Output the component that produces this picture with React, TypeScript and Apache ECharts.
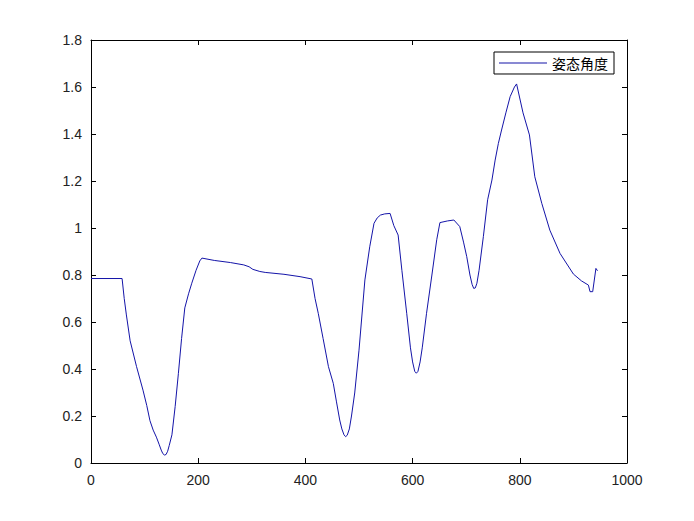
import React, { useEffect, useRef } from "react";
import * as echarts from "echarts";

const xValues = [
  0, 58, 62, 66, 73, 85, 97, 104, 110, 116, 122, 127, 131, 134, 137, 140, 143, 146, 151, 157, 163, 169, 175, 182,
  188, 196, 203, 207, 230, 260, 285, 295, 302, 315, 325, 360, 390, 412, 418, 424, 433, 443, 452, 458, 464, 468,
  472, 475, 478, 482, 486, 492, 500, 511, 520, 528, 534, 540, 548, 558, 565, 573, 580, 589, 596, 600, 604, 607,
  610, 614, 618, 626, 636, 645, 651, 665, 677, 688, 695, 701, 707, 711, 714, 717, 720, 724, 732, 740, 748, 754,
  760, 766, 774, 782, 790, 794, 806, 818, 828, 841, 856, 875, 900, 915, 928, 931, 936, 942, 945,
];
const yValues = [
  0.785, 0.785, 0.7, 0.63, 0.52, 0.41, 0.31, 0.245, 0.18, 0.14, 0.11, 0.08, 0.055, 0.04, 0.034, 0.036, 0.05, 0.075,
  0.12, 0.24, 0.38, 0.53, 0.66, 0.72, 0.765, 0.82, 0.86, 0.872, 0.862, 0.853, 0.843, 0.835, 0.824, 0.815, 0.811,
  0.803, 0.793, 0.783, 0.7, 0.637, 0.53, 0.41, 0.339, 0.26, 0.183, 0.145, 0.12, 0.112, 0.118, 0.145, 0.2, 0.298,
  0.48, 0.779, 0.92, 1.02, 1.043, 1.055, 1.06, 1.062, 1.01, 0.97, 0.82, 0.637, 0.49, 0.43, 0.39, 0.382, 0.39,
  0.43, 0.49, 0.637, 0.8, 0.95, 1.023, 1.03, 1.034, 1.006, 0.94, 0.878, 0.8, 0.76, 0.743, 0.745, 0.765, 0.82,
  0.963, 1.12, 1.204, 1.289, 1.36, 1.417, 1.49, 1.559, 1.6, 1.613, 1.49, 1.396, 1.218, 1.105, 0.991, 0.892, 0.804,
  0.775, 0.757, 0.729, 0.729, 0.828, 0.818,
];
const seriesName = "姿态角度";

export default function App() {
  const ref = useRef<HTMLDivElement>(null);
  useEffect(() => {
    document.body.style.margin = "0";
    const chart = echarts.init(ref.current!, null, { renderer: "svg" });
    const data = xValues.map((x, i) => [x, yValues[i]]);
    const axisCommon = {
      type: "value" as const,
      splitLine: { show: false },
      axisLine: { show: true, onZero: false, lineStyle: { color: "#000", width: 1 } },
      axisTick: { show: true, inside: true, length: 5, lineStyle: { color: "#000" } },
    };
    const fmt = (v: number) => String(Math.round(v * 10) / 10);
    const lineColor = "#1414a8";
    chart.setOption({
      animation: false,
      backgroundColor: "#fff",
      grid: { left: 91, right: 67, top: 40, bottom: 58 },
      legend: {
        data: [{ name: seriesName, icon: "rect" }],
        right: 80,
        top: 52,
        itemWidth: 48,
        itemHeight: 1,
        itemGap: 5,
        padding: [4, 6, 4, 5],
        borderColor: "#000",
        borderWidth: 1,
        borderRadius: 0,
        backgroundColor: "#fff",
        textStyle: { fontFamily: "Noto Sans CJK SC", fontSize: 14, color: "#000" },
      },
      xAxis: [
        {
          ...axisCommon,
          min: 0,
          max: 1000,
          interval: 200,
          position: "bottom",
          axisLabel: { color: "#222", fontSize: 14, fontFamily: "Liberation Sans", margin: 10, formatter: fmt },
        },
        {
          ...axisCommon,
          min: 0,
          max: 1000,
          interval: 200,
          position: "top",
          axisLabel: { show: false },
        },
      ],
      yAxis: [
        {
          ...axisCommon,
          min: 0,
          max: 1.8,
          interval: 0.2,
          position: "left",
          axisLabel: { color: "#222", fontSize: 14, fontFamily: "Liberation Sans", margin: 9, formatter: fmt },
        },
        {
          ...axisCommon,
          min: 0,
          max: 1.8,
          interval: 0.2,
          position: "right",
          axisLabel: { show: false },
        },
      ],
      series: [
        {
          name: seriesName,
          type: "line",
          data,
          symbol: "none",
          showSymbol: false,
          smooth: false,
          lineStyle: { color: lineColor, width: 1 },
          itemStyle: { color: lineColor },
        },
      ],
    });
    return () => chart.dispose();
  }, []);
  return <div ref={ref} style={{ width: 694, height: 521 }} />;
}
